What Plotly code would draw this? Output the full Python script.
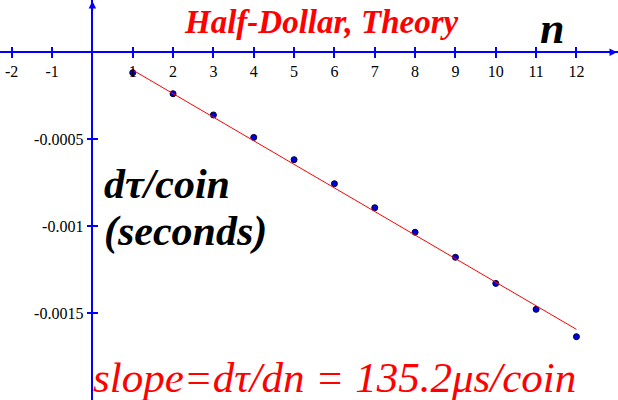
import plotly.graph_objects as go

# data
n_values = [1, 2, 3, 4, 5, 6, 7, 8, 9, 10, 11, 12]
dtau_values = [-0.000117, -0.000238, -0.000360, -0.000489, -0.000617, -0.000755,
               -0.000893, -0.001034, -0.001178, -0.001328, -0.001477, -0.001634]
fit_n = [1, 12]
fit_dtau = [-0.000102, -0.001592]

x_tickvals = [-2, -1, 1, 2, 3, 4, 5, 6, 7, 8, 9, 10, 11, 12]
x_ticktext = ["-2", "-1", "1", "2", "3", "4", "5", "6", "7", "8", "9", "10", "11", "12"]
y_tickvals = [-0.0005, -0.001, -0.0015]
y_ticktext = ["-0.0005", "-0.001", "-0.0015"]

W, H = 618, 400
x_range = [-2.29, 13.03]
y_range = [-0.001998, 0.0003006]
x_pos = (0 - x_range[0]) / (x_range[1] - x_range[0])
y_pos = (0 - y_range[0]) / (y_range[1] - y_range[0])

FONT = "Liberation Serif, Times New Roman, serif"
BLUE = "#0000ff"

fig = go.Figure()
fig.add_trace(go.Scatter(x=fit_n, y=fit_dtau, mode="lines",
                         line=dict(color="#ff0000", width=1),
                         xaxis="x2", yaxis="y2", hoverinfo="skip"))
fig.add_trace(go.Scatter(x=n_values, y=dtau_values, mode="markers",
                         marker=dict(color="#0000dd", size=6, symbol="circle",
                                     line=dict(color="#000033", width=1))))

axis_common = dict(showgrid=False, zeroline=False, showline=True, linecolor=BLUE,
                   linewidth=1.5, tickcolor=BLUE, tickwidth=1.5, ticklen=5,
                   tickfont=dict(family=FONT, size=16, color="black"))
axis_plain = {k: v for k, v in axis_common.items() if k != "tickfont"}

fig.update_layout(
    width=W, height=H,
    margin=dict(l=0, r=0, t=0, b=0, autoexpand=False),
    paper_bgcolor="white", plot_bgcolor="white",
    showlegend=False,
    xaxis=dict(range=x_range, anchor="free", position=y_pos, ticks="outside",
               automargin=False,
               tickmode="array", tickvals=x_tickvals, ticktext=x_ticktext, **axis_common),
    yaxis=dict(range=y_range, anchor="free", position=x_pos, ticks="outside",
               automargin=False,
               tickmode="array", tickvals=y_tickvals, ticktext=y_ticktext, **axis_common),
    xaxis2=dict(range=x_range, overlaying="x", anchor="free", position=y_pos, ticks="inside",
                tickmode="array", tickvals=x_tickvals, showticklabels=False, **axis_plain),
    yaxis2=dict(range=y_range, overlaying="y", anchor="free", position=x_pos, ticks="inside",
                tickmode="array", tickvals=y_tickvals, showticklabels=False, **axis_plain),
)

annotations = [
    # axis arrowheads
    dict(x=1, y=0, xref="paper", yref="y", ax=-12, ay=0, axref="pixel", ayref="pixel",
         showarrow=True, arrowhead=2, arrowsize=1, arrowwidth=1.5, arrowcolor=BLUE, text=""),
    dict(x=0, y=1, xref="x", yref="paper", ax=0, ay=12,
         showarrow=True, arrowhead=2, arrowsize=1, arrowwidth=1.5, arrowcolor=BLUE, text=""),
    dict(x=321 / W, y=1 - 22 / H, xanchor="center", text="<b><i>Half-Dollar, Theory</i></b>",
         font=dict(family=FONT, size=33, color="#ff0000")),
    dict(x=552 / W, y=1 - 28 / H, xanchor="center",
         text="<b><i>n</i></b>", font=dict(family=FONT, size=44, color="black")),
    dict(x=102 / W, y=1 - 184 / H, xanchor="left", text="<b><i>dτ/coin</i></b>",
         font=dict(family=FONT, size=42, color="black")),
    dict(x=102 / W, y=1 - 232 / H, xanchor="left", text="<b><i>(seconds)</i></b>",
         font=dict(family=FONT, size=42, color="black")),
    dict(x=91 / W, y=1 - 377 / H, xanchor="left", text="<i>slope=dτ/dn = 135.2μs/coin</i>",
         font=dict(family=FONT, size=43, color="#ff0000")),
]
for a in annotations[2:]:
    a.update(xref="paper", yref="paper", yanchor="middle", showarrow=False)
fig.update_layout(annotations=annotations)

fig.write_html("out.html", config={"displayModeBar": False},
               post_script="document.body.style.margin='0';")
